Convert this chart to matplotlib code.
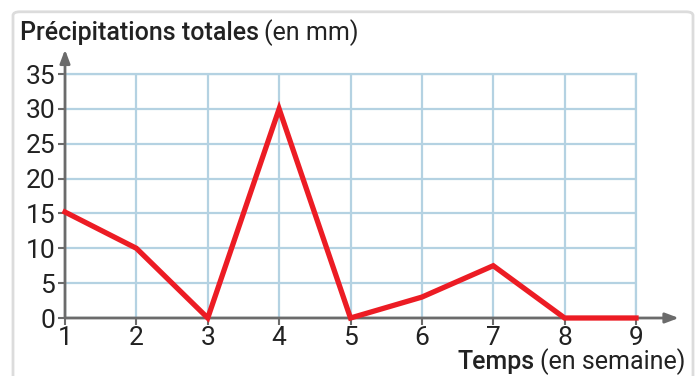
import matplotlib
matplotlib.use("Agg")
import matplotlib.pyplot as plt
from matplotlib.patches import FancyBboxPatch

weeks = [1, 2, 3, 4, 5, 6, 7, 8, 9]
rain_mm = [15.2, 10, 0, 30, 0, 3, 7.5, 0, 0]
y_ticks = [0, 5, 10, 15, 20, 25, 30, 35]

plt.rcParams['font.family'] = ['Roboto', 'DejaVu Sans']

W, H = 695, 376
fig = plt.figure(figsize=(W / 100, H / 100), dpi=100)
fig.patch.set_facecolor('white')

# rounded frame around the chart
frame = FancyBboxPatch((13 / W, -0.05), 680 / W, (H + 20 - 13) / H,
                       boxstyle='round,pad=0,rounding_size=0.01',
                       transform=fig.transFigure, facecolor='none',
                       edgecolor='#dcdcdc', linewidth=2)
fig.patches.append(frame)

ax = fig.add_axes([65 / W, 58 / H, (636 - 65) / W, (318 - 74) / H])
ax.set_xlim(1, 9)
ax.set_ylim(0, 35)

grid_c = '#b4d2e2'
ax.set_xticks(weeks)
ax.set_yticks(y_ticks)
ax.grid(True, color=grid_c, linewidth=1.6)
ax.set_axisbelow(True)
for side in ('top', 'right'):
    ax.spines[side].set_color(grid_c)
    ax.spines[side].set_linewidth(1.6)
ax.spines['left'].set_visible(False)
ax.spines['bottom'].set_visible(False)

axis_c = '#6b6b6b'
# axes with arrows
arrow = dict(arrowstyle='-|>,head_length=0.8,head_width=0.3',
             color=axis_c, lw=2, shrinkA=0, shrinkB=0)
ax.annotate('', xy=(0, 1.1), xytext=(0, 0), xycoords='axes fraction',
            arrowprops=arrow, annotation_clip=False)
ax.annotate('', xy=(1.075, 0), xytext=(0, 0), xycoords='axes fraction',
            arrowprops=arrow, annotation_clip=False)

ax.tick_params(axis='both', colors=axis_c, length=5, width=1.5,
               labelsize=19, labelcolor='#222222')
ax.tick_params(axis='x', pad=1)
ax.tick_params(axis='y', pad=2)

ax.plot(weeks, rain_mm, color='#ec1c24', linewidth=3.8,
        solid_joinstyle='miter', clip_on=False, zorder=5)

t1 = fig.text(20 / W, 1 - 33 / H, 'Précipitations totales', fontsize=18,
              fontweight='medium', color='#222222', va='center', ha='left')
fig.canvas.draw()
bb = t1.get_window_extent()
fig.text(bb.x1 / W + 5 / W, 1 - 33 / H, '(en mm)', fontsize=18,
         color='#222222', va='center', ha='left')

t2 = fig.text(685 / W, 1 - 362 / H, '(en semaine)', fontsize=18,
              color='#222222', va='center', ha='right')
fig.canvas.draw()
bb2 = t2.get_window_extent()
fig.text(bb2.x0 / W - 5 / W, 1 - 362 / H, 'Temps', fontsize=18,
         fontweight='medium', color='#222222', va='center', ha='right')

fig.savefig('out.png', dpi=100, facecolor='white')
